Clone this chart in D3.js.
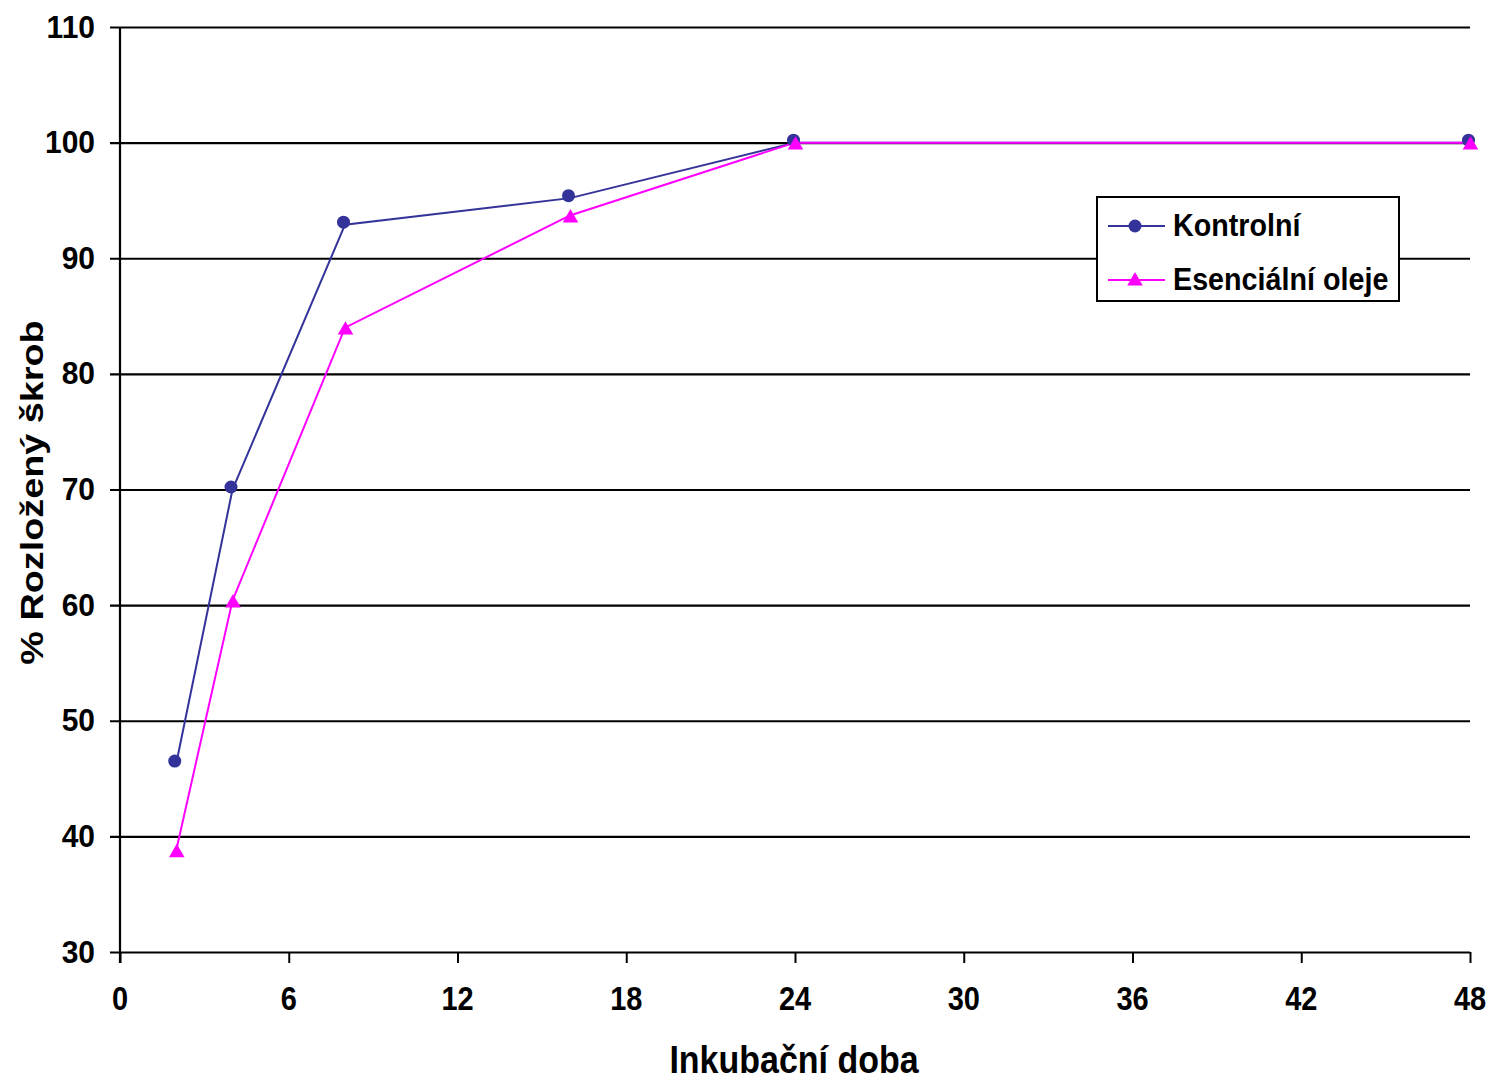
<!DOCTYPE html>
<html>
<head>
<meta charset="utf-8">
<script src="https://cdn.jsdelivr.net/npm/d3@7"></script>
<style>
  html, body { margin: 0; padding: 0; background: #fff; }
  svg { display: block; }
  text { font-family: "Liberation Sans", Arial, sans-serif; font-weight: bold; fill: #000; }
</style>
</head>
<body>
<svg id="chart" width="1490" height="1081"></svg>
<script>
// Incubation time (hours)
const hours = [2, 4, 8, 16, 24, 48];
// % decomposed starch per series
const kontrolni = [46.3, 70.0, 92.9, 95.2, 100.0, 100.0];
const esencialni = [38.8, 60.4, 84.0, 93.7, 100.0, 100.0];
const seriesNames = ["Kontrolní", "Esenciální oleje"];
const xTicks = [0, 6, 12, 18, 24, 30, 36, 42, 48];
const yTicks = [30, 40, 50, 60, 70, 80, 90, 100, 110];
const xTitle = "Inkubační doba";
const yTitle = "% Rozložený škrob";

const colors = { k: "#333399", e: "#FF00FF" };
const svg = d3.select("#chart");
const plotLeft = 120, plotRight = 1470, plotTop = 27, plotBottom = 952;

const x = d3.scaleLinear().domain([0, 48]).range([plotLeft, plotRight]);
const y = d3.scaleLinear().domain([30, 110]).range([plotBottom, plotTop]);

// horizontal gridlines with short ticks on the left
const yAxis = svg.append("g")
  .attr("transform", `translate(${plotRight},0)`)
  .call(d3.axisLeft(y).tickValues(yTicks).tickSize(plotRight - plotLeft + 10).tickFormat(""));
yAxis.select(".domain").remove();
yAxis.selectAll("line").attr("stroke", "#000").attr("stroke-width", 2.2);

// y tick labels
svg.append("g").selectAll("text").data(yTicks).join("text")
  .attr("transform", d => `translate(95,${y(d) + 10.5}) scale(1,1.03)`)
  .attr("text-anchor", "end")
  .style("font-size", "30px")
  .text(d => d);

// x axis ticks
const xAxis = svg.append("g")
  .attr("transform", `translate(0,${plotBottom})`)
  .call(d3.axisBottom(x).tickValues(xTicks).tickSize(11).tickFormat(""));
xAxis.select(".domain").remove();
xAxis.selectAll("line").attr("stroke", "#000").attr("stroke-width", 2);

// vertical axis line
svg.append("line")
  .attr("x1", plotLeft).attr("x2", plotLeft)
  .attr("y1", plotTop).attr("y2", plotBottom + 11)
  .attr("stroke", "#000").attr("stroke-width", 2.2);

// x tick labels
svg.append("g").selectAll("text").data(xTicks).join("text")
  .attr("transform", d => `translate(${x(d)},1010) scale(1,1.12)`)
  .attr("text-anchor", "middle")
  .style("font-size", "29px")
  .text(d => d);

// axis titles
svg.append("text")
  .attr("transform", `translate(${(plotLeft + plotRight) / 2 - 1},1073) scale(1,1.12)`)
  .attr("text-anchor", "middle")
  .style("font-size", "34px")
  .text(xTitle);

svg.append("text")
  .attr("transform", `translate(43,${(plotTop + plotBottom) / 2 + 3}) rotate(-90) scale(1.2,1)`)
  .attr("text-anchor", "middle")
  .style("font-size", "31.5px")
  .text(yTitle);

// series lines and markers
const line = d3.line().x(d => x(d[0])).y(d => y(d[1]));
const kData = hours.map((h, i) => [h, kontrolni[i]]);
const eData = hours.map((h, i) => [h, esencialni[i]]);

svg.append("path").datum(kData)
  .attr("d", line).attr("fill", "none")
  .attr("stroke", colors.k).attr("stroke-width", 2);
svg.append("path").datum(eData)
  .attr("d", line).attr("fill", "none")
  .attr("stroke", colors.e).attr("stroke-width", 2);

svg.append("g").attr("transform", "translate(-1.5,-2.5)")
  .selectAll("circle").data(kData).join("circle")
  .attr("cx", d => x(d[0])).attr("cy", d => y(d[1]))
  .attr("r", 6.5).attr("fill", colors.k);

const tri = d3.symbol().type(d3.symbolTriangle).size(105);
svg.append("g").attr("transform", "translate(0.5,2.5)")
  .selectAll("path").data(eData).join("path")
  .attr("d", tri)
  .attr("transform", d => `translate(${x(d[0])},${y(d[1])})`)
  .attr("fill", colors.e);

// legend
const lg = svg.append("g").attr("transform", "translate(1097,197)");
lg.append("rect")
  .attr("width", 302).attr("height", 104)
  .attr("fill", "#fff").attr("stroke", "#000").attr("stroke-width", 2);
const rows = [
  { name: seriesNames[0], color: colors.k, shape: "circle", cy: 29 },
  { name: seriesNames[1], color: colors.e, shape: "triangle", cy: 83 }
];
rows.forEach(r => {
  lg.append("line")
    .attr("x1", 11).attr("x2", 68).attr("y1", r.cy).attr("y2", r.cy)
    .attr("stroke", r.color).attr("stroke-width", 2);
  if (r.shape === "circle") {
    lg.append("circle").attr("cx", 38).attr("cy", r.cy).attr("r", 6.5).attr("fill", r.color);
  } else {
    lg.append("path").attr("d", tri)
      .attr("transform", `translate(38,${r.cy + 1})`).attr("fill", r.color);
  }
  lg.append("text")
    .attr("transform", `translate(76,${r.cy + 10}) scale(0.99,1.06)`)
    .style("font-size", "29px")
    .text(r.name);
});
</script>
</body>
</html>
